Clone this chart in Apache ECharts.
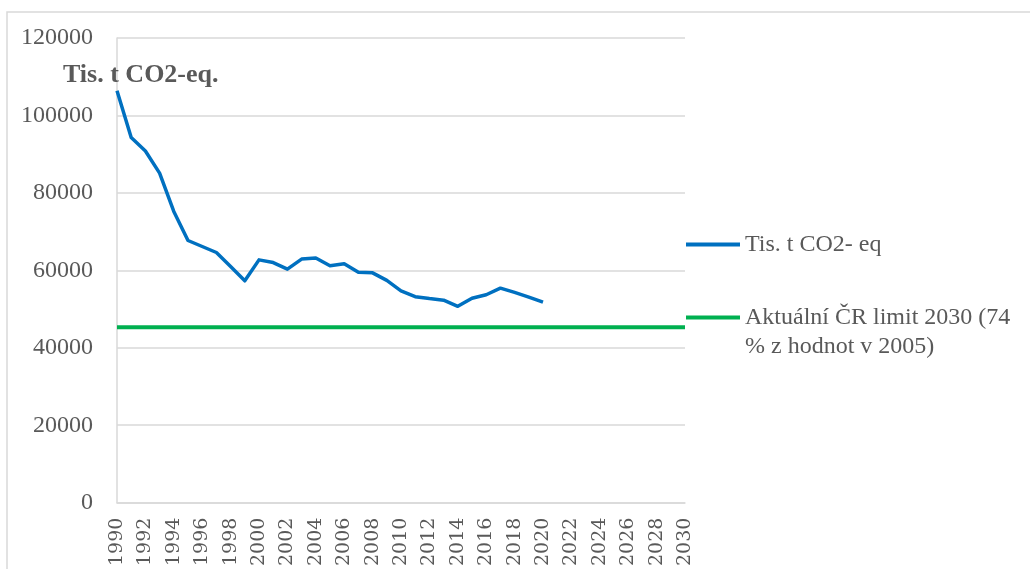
<!DOCTYPE html>
<html>
<head>
<meta charset="utf-8">
<script src="https://cdn.jsdelivr.net/npm/echarts@6/dist/echarts.min.js"></script>
<style>
  html, body { margin: 0; padding: 0; background: #ffffff; }
  #chart { width: 1030px; height: 569px; }
</style>
</head>
<body>
<div id="chart"></div>
<script>
// Years on the category axis (1990–2030)
const years = [];
for (let y = 1990; y <= 2030; y++) years.push(String(y));

// Emissions, thousand tonnes CO2-eq, 1990–2020
const emissions = [
  106400, 94300, 90800, 85100, 75200, 67700, 66150, 64600, 61000, 57300,
  62700, 62000, 60300, 62900, 63200, 61200, 61700, 59500, 59350, 57400,
  54700, 53200, 52700, 52300, 50700, 52800, 53700, 55400, 54300, 53100,
  51800
];

// 2030 limit (74 % of the 2005 value), drawn across the whole axis
const limitYears = ['1990', '2030'];
const limitValues = [45300, 45300];

// Value-axis ticks
const yTicks = [0, 20000, 40000, 60000, 80000, 100000, 120000];

const seriesNames = ['Tis. t CO2- eq', 'Aktuální ČR limit 2030 (74 % z hodnot v 2005)'];

const textColor = '#595959';
const gridColor = '#d9d9d9';
const font = '"Liberation Serif", "DejaVu Serif", serif';
const yearFont = '"DejaVu Serif", "Liberation Serif", serif';

const chart = echarts.init(document.getElementById('chart'), null, { renderer: 'canvas' });

chart.setOption({
  backgroundColor: '#ffffff',
  animation: false,
  title: {
    text: 'Tis. t CO2-eq.',
    left: 58,
    top: 57,
    textStyle: { fontFamily: font, fontWeight: 'bold', fontSize: 26, color: textColor }
  },
  graphic: [{
    type: 'rect',
    shape: { x: 7, y: 12, width: 1200, height: 800 },
    style: { fill: 'none', stroke: gridColor, lineWidth: 1.5 },
    silent: true,
    z: -1
  }],
  legend: [{
    data: [{ name: seriesNames[0] }],
    left: 686,
    top: 230,
    padding: 0,
    itemWidth: 54,
    itemHeight: 4,
    icon: 'rect',
    textStyle: { fontFamily: font, fontSize: 24, color: textColor, lineHeight: 29 }
  }, {
    data: [{ name: seriesNames[1] }],
    left: 686,
    top: 274,
    padding: 0,
    itemWidth: 54,
    itemHeight: 4,
    icon: 'rect',
    // blank first line keeps the swatch level with the first text line
    formatter: () => '\nAktuální ČR limit 2030 (74\n% z hodnot v 2005)',
    textStyle: { fontFamily: font, fontSize: 24, color: textColor, lineHeight: 29 }
  }],
  grid: { left: 117, right: 345, top: 38, bottom: 66 },
  xAxis: {
    type: 'category',
    data: years,
    boundaryGap: false,
    axisLine: { lineStyle: { color: gridColor, width: 1.5 } },
    axisTick: { show: false },
    axisLabel: {
      interval: 1,
      rotate: 90,
      margin: 15,
      fontFamily: yearFont,
      fontSize: 19,
      color: textColor
    },
    splitLine: { show: false }
  },
  yAxis: {
    type: 'value',
    min: yTicks[0],
    max: yTicks[yTicks.length - 1],
    interval: yTicks[1] - yTicks[0],
    axisLine: { show: true, lineStyle: { color: gridColor, width: 1.5 } },
    axisTick: { show: false },
    axisLabel: {
      margin: 24,
      fontFamily: font,
      fontSize: 24,
      color: textColor,
      formatter: (v) => String(v)
    },
    splitLine: { lineStyle: { color: gridColor, width: 1.5 } }
  },
  series: [{
    name: seriesNames[0],
    type: 'line',
    data: emissions,
    showSymbol: false,
    symbol: 'none',
    color: '#0070c0',
    lineStyle: { width: 3.5, color: '#0070c0', join: 'round' }
  }, {
    name: seriesNames[1],
    type: 'line',
    data: limitYears.map((y, i) => [y, limitValues[i]]),
    showSymbol: false,
    symbol: 'none',
    color: '#00b050',
    lineStyle: { width: 4, color: '#00b050' }
  }]
});
</script>
</body>
</html>
